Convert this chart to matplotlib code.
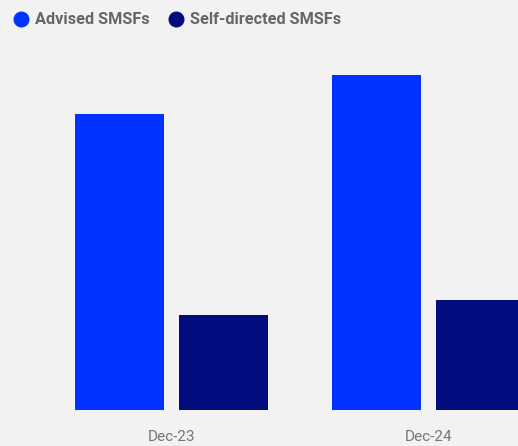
import matplotlib
matplotlib.use("Agg")
import matplotlib.pyplot as plt
from matplotlib.lines import Line2D
import numpy as np

categories = ["Dec-23", "Dec-24"]
series_names = ["Advised SMSFs", "Self-directed SMSFs"]
advised = [296, 335]
self_directed = [95, 110]
colors = ["#0033ff", "#020c7e"]

W, H = 518, 446
fig = plt.figure(figsize=(W / 100, H / 100), dpi=100)
bg = "#f2f2f2"
fig.patch.set_facecolor(bg)

ax_bottom_px, ax_top_px = 410, 40
ax = fig.add_axes([0, (H - ax_bottom_px) / H, 1, (ax_bottom_px - ax_top_px) / H])
ax.set_facecolor(bg)

x = np.arange(len(categories))
group_px = 257.0
bw = 89 / group_px
off = 52 / group_px
ax.bar(x - off, advised, width=bw, color=colors[0], zorder=2)
ax.bar(x + off, self_directed, width=bw, color=colors[1], zorder=2)

ax.set_xlim(-171.5 / group_px, (W - 171.5) / group_px)
ax.set_ylim(0, ax_bottom_px - ax_top_px)
ax.set_xticks(x)
ax.set_xticklabels(categories, fontfamily="Roboto", fontsize=11, color="#757575")
ax.tick_params(axis="x", length=0, pad=14.5)
ax.set_yticks([])
for s in ax.spines.values():
    s.set_visible(False)

# legend
leg_y = 1 - 19 / H
items = [(21, 35, series_names[0], colors[0]), (176, 190, series_names[1], colors[1])]
for cx, tx, label, c in items:
    fig.add_artist(Line2D([cx / W], [leg_y], marker="o", markersize=10.5, color=c,
                          linestyle="none", transform=fig.transFigure))
    fig.text(tx / W, leg_y, label, fontfamily="Roboto", fontweight="bold", fontsize=11.7,
             color="#666666", va="center", ha="left")

fig.savefig("out.png", dpi=100, facecolor=bg)
